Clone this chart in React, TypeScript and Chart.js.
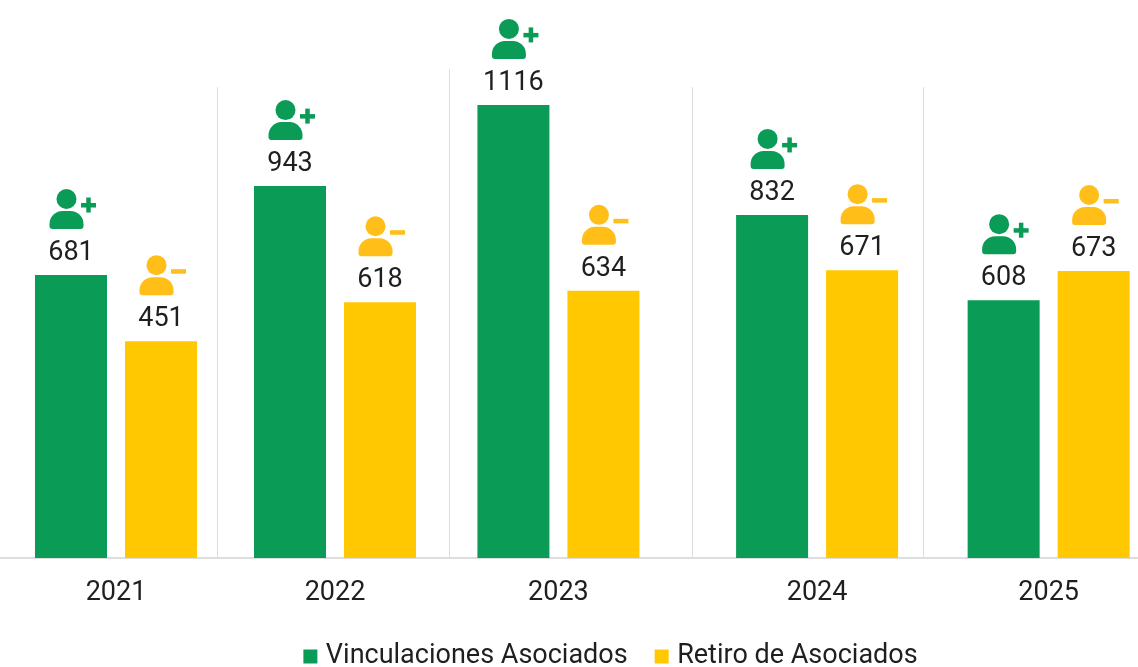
import React, { useEffect, useRef } from "react";
import { Chart, registerables } from "chart.js";

Chart.register(...registerables);

// Printed figures
const years = ["2021", "2022", "2023", "2024", "2025"];
const vinculacionesLabels = [681, 943, 1116, 832, 608];
const retiroLabels = [451, 618, 634, 671, 673];
// Bar heights (the drawn bars are not strictly proportional to the printed figures)
const vinculacionesBars = [697, 916, 1116, 845, 635];
const retiroBars = [534, 630, 658, 709, 707];
// The reference spaces its groups unevenly: where each group and divider falls on the year axis
const groupAxisPositions = [2021, 2021.944, 2022.907, 2024.022, 2025.02];
const dividerAxisPositions = [2021.435, 2022.435, 2023.483, 2024.478];
const dividerTopValues = [1160, 1205, 1160, 1160];

const GREEN = "#0A9C56";
const YELLOW = "#FFC800";
const ICON_YELLOW = "#FFBE18";
const INK = "#1F1F1F";
const FONT = "Roboto";

function drawPerson(ctx: CanvasRenderingContext2D, cx: number, top: number, color: string, plus: boolean) {
  ctx.save();
  ctx.fillStyle = color;
  const headX = cx - 4.5;
  ctx.beginPath();
  ctx.arc(headX, top - 76, 10, 0, Math.PI * 2);
  ctx.fill();
  ctx.beginPath();
  ctx.roundRect(headX - 17, top - 64, 34, 18, [13, 13, 3, 3]);
  ctx.fill();
  ctx.fillRect(cx + 10, top - 72, 15, 4.5);
  if (plus) ctx.fillRect(cx + 15.25, top - 77.5, 4.5, 15);
  ctx.restore();
}

const markersPlugin = {
  id: "markers",
  afterLayout(chart: any) {
    chart.legend.left += 88;
    chart.legend.top += 1;
  },
  beforeDatasetsDraw(chart: any) {
    const { ctx, scales } = chart;
    ctx.save();
    ctx.strokeStyle = "#DEDEDE";
    ctx.lineWidth = 1;
    dividerAxisPositions.forEach((p, i) => {
      const x = Math.round(scales.x.getPixelForValue(p)) + 0.5;
      ctx.beginPath();
      ctx.moveTo(x, scales.y.getPixelForValue(dividerTopValues[i]));
      ctx.lineTo(x, scales.y.getPixelForValue(0));
      ctx.stroke();
    });
    ctx.restore();
  },
  afterDatasetsDraw(chart: any) {
    const { ctx } = chart;
    const sets = [
      { labels: vinculacionesLabels, color: GREEN, plus: true },
      { labels: retiroLabels, color: ICON_YELLOW, plus: false },
    ];
    sets.forEach((s, d) => {
      chart.getDatasetMeta(d).data.forEach((bar: any, i: number) => {
        ctx.save();
        ctx.font = `27px ${FONT}`;
        ctx.fillStyle = INK;
        ctx.textAlign = "center";
        ctx.textBaseline = "middle";
        ctx.fillText(String(s.labels[i]), bar.x, bar.y - 22);
        ctx.restore();
        drawPerson(ctx, bar.x, bar.y, s.color, s.plus);
      });
    });
  },
};

export default function App() {
  const ref = useRef<HTMLCanvasElement>(null);
  useEffect(() => {
    const chart = new Chart(ref.current!, {
      type: "bar",
      data: {
        datasets: [
          {
            label: "Vinculaciones Asociados",
            data: groupAxisPositions.map((x, i) => ({ x, y: vinculacionesBars[i] })),
            backgroundColor: GREEN,
          },
          {
            label: "Retiro de Asociados",
            data: groupAxisPositions.map((x, i) => ({ x, y: retiroBars[i] })),
            backgroundColor: YELLOW,
          },
        ],
      },
      options: {
        animation: false,
        responsive: false,
        layout: { padding: { left: 0, right: 0, top: 0, bottom: -12 } },
        categoryPercentage: 0.822,
        barPercentage: 0.8,
        scales: {
          x: {
            type: "linear",
            offset: false,
            min: 2020.5,
            max: 2020.5 + 1138 / 232,
            grid: { display: false },
            border: { color: "#DEDEDE", width: 2 },
            afterBuildTicks: (s: any) => {
              s.ticks = groupAxisPositions.map((value) => ({ value }));
            },
            afterFit: (s: any) => {
              s.height = 52;
            },
            ticks: {
              autoSkip: false,
              maxRotation: 0,
              padding: 11,
              color: INK,
              font: { family: FONT, size: 27 },
              callback: (_v: any, i: number) => years[i],
            },
          },
          y: { display: false, min: 0, max: 558 / 0.406 },
        },
        plugins: {
          tooltip: { enabled: false },
          legend: {
            position: "bottom",
            labels: {
              usePointStyle: true,
              pointStyle: "rect",
              boxWidth: 4,
              boxHeight: 14,
              padding: 32,
              color: INK,
              font: { family: FONT, size: 27 },
            },
          },
        },
      } as any,
      plugins: [markersPlugin],
    });
    return () => chart.destroy();
  }, []);
  return (
    <canvas
      ref={ref}
      width={1138}
      height={667}
      style={{ position: "absolute", left: 0, top: 0, display: "block" }}
    />
  );
}
